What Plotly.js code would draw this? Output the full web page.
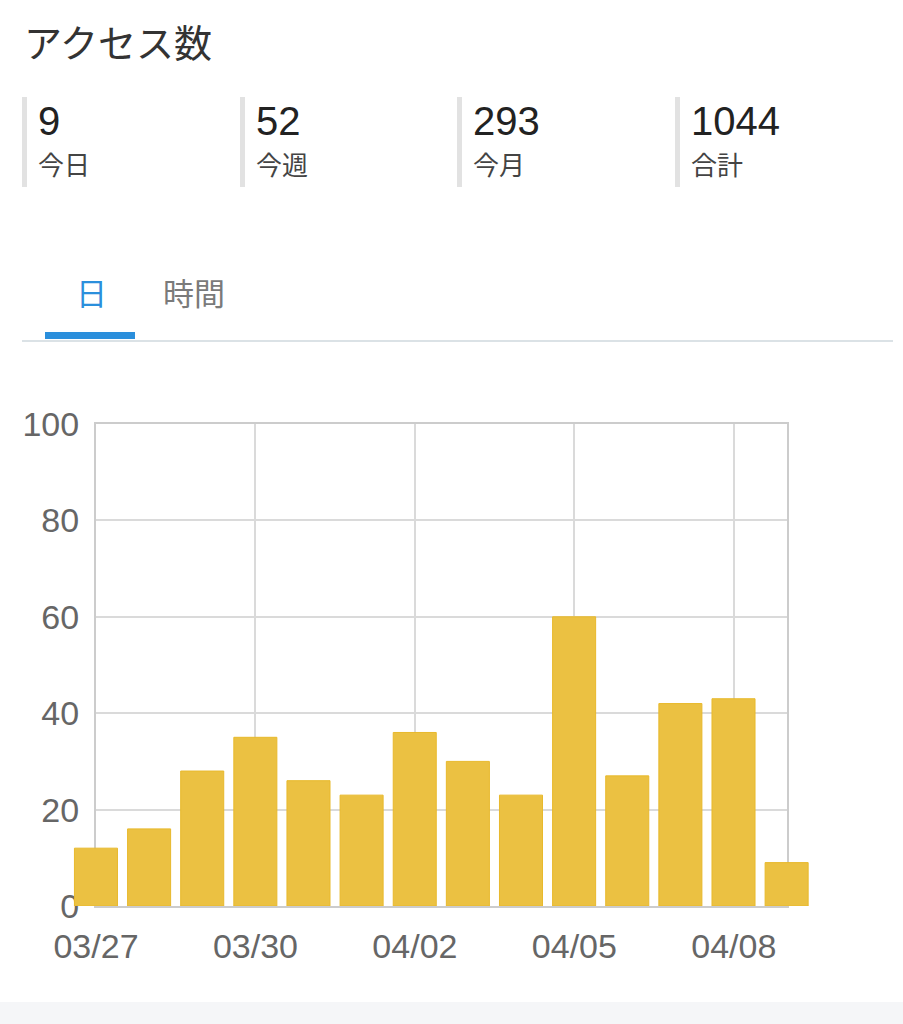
<!DOCTYPE html>
<html>
<head>
<meta charset="utf-8">
<script src="https://cdn.plot.ly/plotly-3.0.1.min.js"></script>
<style>
  body { margin: 0; width: 903px; height: 1024px; background: #fff; overflow: hidden;
         font-family: "Liberation Sans", "Noto Sans CJK JP", sans-serif; position: relative; }
  #title { position: absolute; left: 24px; top: 21px; font-size: 38px; line-height: 40px; color: #333;
           font-family: "Noto Sans CJK JP", sans-serif; }
  .stat { position: absolute; top: 97px; height: 90px; border-left: 5px solid #e2e2e2; padding-left: 11px; }
  .stat .num { font-size: 40px; line-height: 40px; color: #222; margin-top: 4px; }
  .stat .lbl { font-size: 26px; line-height: 30px; color: #444; margin-top: 8px;
               font-family: "Noto Sans CJK JP", sans-serif; }
  .tab { position: absolute; top: 274px; font-size: 31px; line-height: 36px; font-family: "Noto Sans CJK JP", sans-serif; }
  #tabline { position: absolute; left: 22px; top: 340px; width: 871px; height: 2px; background: #dbe2e6; }
  #tabbar { position: absolute; left: 45px; top: 332px; width: 90px; height: 7px; background: #2b8fdc; }
  #chart { position: absolute; left: 0; top: 0; width: 903px; height: 1024px; }
  #foot { position: absolute; left: 0; top: 1002px; width: 903px; height: 22px; background: #f5f6f8; }
</style>
</head>
<body>
<div id="title">アクセス数</div>
<div class="stat" style="left:22px"><div class="num">9</div><div class="lbl">今日</div></div>
<div class="stat" style="left:240px"><div class="num">52</div><div class="lbl">今週</div></div>
<div class="stat" style="left:457px"><div class="num">293</div><div class="lbl">今月</div></div>
<div class="stat" style="left:675px"><div class="num">1044</div><div class="lbl">合計</div></div>
<div class="tab" style="left:76px; color:#2b8fdc">日</div>
<div class="tab" style="left:163px; color:#7a7a7a">時間</div>
<div id="tabline"></div>
<div id="tabbar"></div>
<div id="chart"></div>
<div id="foot"></div>
<script>
// daily access counts
const days = ['2024-03-27', '2024-03-28', '2024-03-29', '2024-03-30', '2024-03-31', '2024-04-01', '2024-04-02',
              '2024-04-03', '2024-04-04', '2024-04-05', '2024-04-06', '2024-04-07', '2024-04-08', '2024-04-09'];
const counts = [12, 16, 28, 35, 26, 23, 36, 30, 23, 60, 27, 42, 43, 9];
const tickDays = ['2024-03-27', '2024-03-30', '2024-04-02', '2024-04-05', '2024-04-08'];

const W = 903;

// invisible trace so the grid/frame subplot gets drawn
let gridTrace = {
    type: 'scatter',
    x: days,
    y: counts,
    mode: 'markers',
    marker: { opacity: 0 },
    hoverinfo: 'none'
};
let barTrace = {
    type: 'bar',
    x: days,
    y: counts,
    xaxis: 'x2',
    yaxis: 'y2',
    marker: {
        color: '#ebc142',
        line: { width: 1, color: '#e8b92c' }
    },
    hoverinfo: 'none'
};

let tickFont = { family: 'Liberation Sans, Arial, sans-serif', size: 34, color: '#666' };
let layout = {
    width: 903,
    height: 1024,
    margin: { t: 424, b: 118, l: 0, r: 0 },
    paper_bgcolor: 'rgba(0,0,0,0)',
    plot_bgcolor: 'rgba(0,0,0,0)',
    showlegend: false,
    bargap: 0.19,
    // grid + frame axes
    xaxis: {
        type: 'date',
        anchor: 'y',
        domain: [96 / W, 787 / W],
        range: [days[0], days[days.length - 1]],
        tickvals: tickDays,
        tickformat: '%m/%d',
        tickfont: tickFont,
        ticks: '',
        ticklabelstandoff: 9,
        showgrid: true,
        gridcolor: '#dadada',
        gridwidth: 2,
        showline: true,
        mirror: true,
        linecolor: '#cccccc',
        linewidth: 2,
        zeroline: false
    },
    yaxis: {
        anchor: 'x',
        range: [0, 100],
        dtick: 20,
        tickfont: tickFont,
        ticks: '',
        ticklabelstandoff: 8,
        showgrid: true,
        gridcolor: '#dadada',
        gridwidth: 2,
        showline: true,
        mirror: true,
        linecolor: '#cccccc',
        linewidth: 2,
        zeroline: false
    },
    // bar axes, wider so the end bars overflow the frame
    xaxis2: {
        type: 'date',
        domain: [69.4 / W, 813.2 / W],
        range: ['2024-03-26 12:00', '2024-04-09 12:00'],
        visible: false,
        anchor: 'y2'
    },
    yaxis2: {
        range: [0, 100],
        visible: false,
        anchor: 'x2'
    }
};

Plotly.newPlot('chart', [gridTrace, barTrace], layout, { displayModeBar: false, staticPlot: true });
</script>
</body>
</html>
